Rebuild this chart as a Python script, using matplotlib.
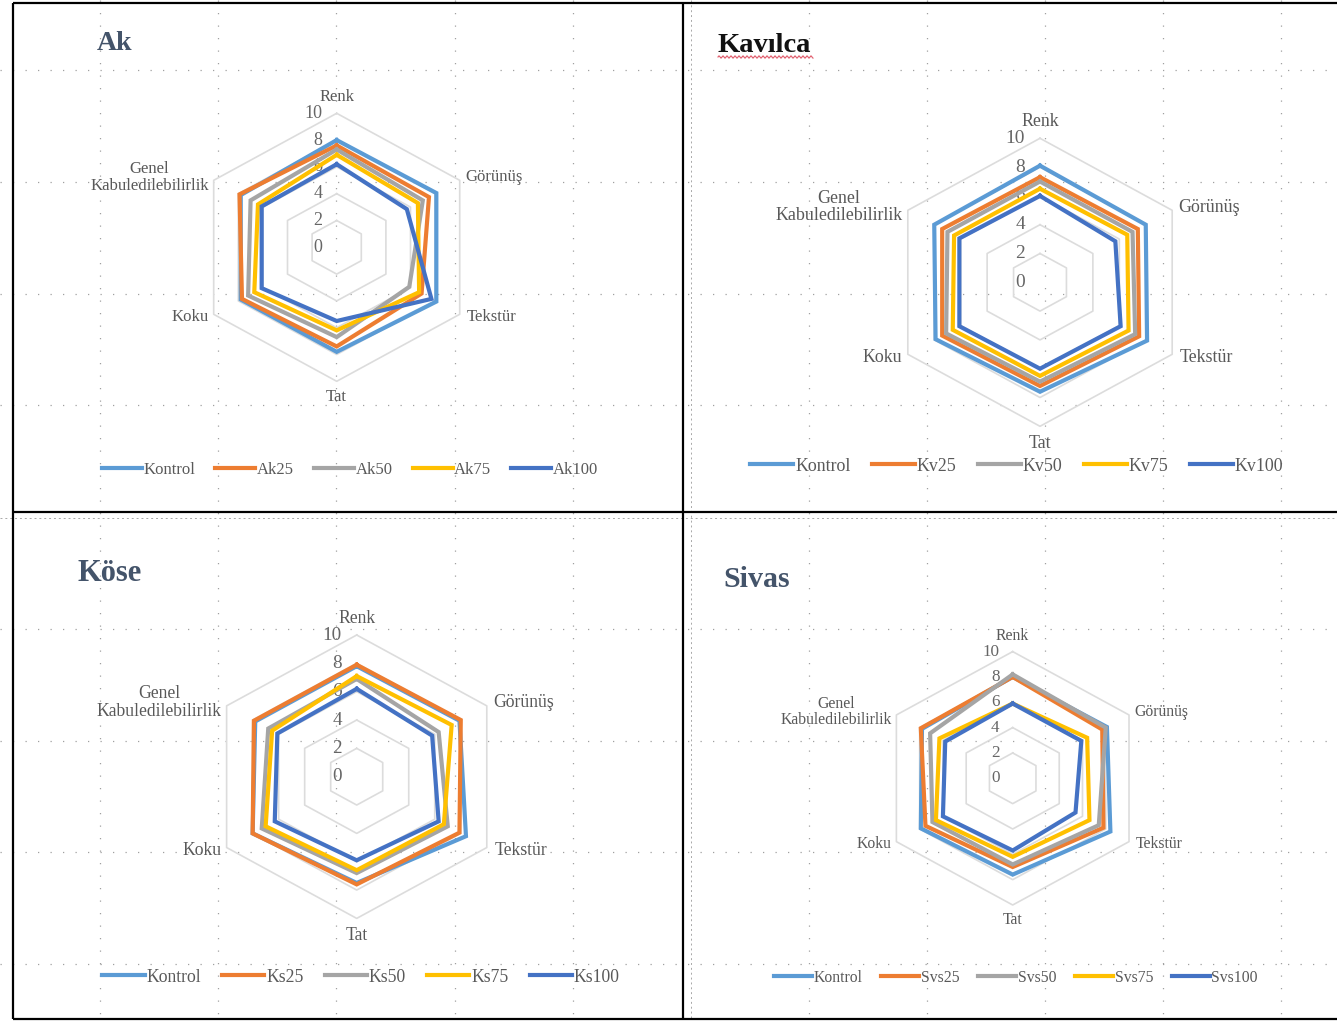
import numpy as np
import matplotlib
matplotlib.use("Agg")
import matplotlib.pyplot as plt

plt.rcParams['font.family'] = ['Liberation Serif', 'DejaVu Serif']

W, H = 1337, 1021

categories = ["Renk", "Görünüş", "Tekstür", "Tat", "Koku", "Genel\nKabuledilebilirlik"]
ticks = [0, 2, 4, 6, 8, 10]
series_colors = ["#5B9BD5", "#ED7D31", "#A5A5A5", "#FFC000", "#4472C4"]

# Ak
ak_names = ["Kontrol", "Ak25", "Ak50", "Ak75", "Ak100"]
ak_kontrol = [8.0, 8.1, 8.1, 7.8, 7.8, 7.8]
ak_25 = [7.6, 7.5, 6.9, 7.4, 7.7, 7.9]
ak_50 = [7.3, 7.0, 5.9, 6.7, 7.2, 7.0]
ak_75 = [6.9, 6.6, 6.7, 6.2, 6.7, 6.4]
ak_100 = [6.2, 5.7, 7.7, 5.5, 6.1, 6.1]

# Kavılca
kv_names = ["Kontrol", "Kv25", "Kv50", "Kv75", "Kv100"]
kv_kontrol = [8.1, 8.0, 8.1, 7.6, 7.9, 8.0]
kv_25 = [7.3, 7.4, 7.5, 7.2, 7.4, 7.4]
kv_50 = [7.0, 7.0, 7.2, 6.9, 7.1, 7.0]
kv_75 = [6.5, 6.6, 6.7, 6.5, 6.6, 6.5]
kv_100 = [6.0, 5.7, 6.1, 6.0, 6.1, 6.1]

# Köse
ks_names = ["Kontrol", "Ks25", "Ks50", "Ks75", "Ks100"]
ks_kontrol = [7.8, 7.9, 8.4, 7.5, 8.0, 7.8]
ks_25 = [7.9, 8.0, 7.9, 7.6, 8.0, 7.9]
ks_50 = [6.9, 6.3, 7.0, 6.8, 7.3, 6.8]
ks_75 = [7.1, 7.3, 6.7, 6.6, 7.0, 6.5]
ks_100 = [6.2, 5.8, 6.3, 5.9, 6.3, 6.1]

# Sivas
svs_names = ["Kontrol", "Svs25", "Svs50", "Svs75", "Svs100"]
svs_kontrol = [8.0, 8.1, 8.4, 7.6, 7.9, 7.8]
svs_25 = [8.0, 7.7, 7.8, 7.0, 7.5, 7.9]
svs_50 = [8.2, 8.0, 7.4, 6.8, 6.9, 7.1]
svs_75 = [5.9, 6.4, 6.6, 6.2, 6.6, 6.3]
svs_100 = [5.9, 5.9, 5.4, 5.7, 6.0, 5.8]

fig = plt.figure(figsize=(W / 100, H / 100), dpi=100)

# page background: dotted layout grid, cell borders, titles
bg = fig.add_axes([0, 0, 1, 1], zorder=0)
bg.set_xlim(0, W)
bg.set_ylim(H, 0)
bg.axis('off')

grid_x = [100, 218, 336, 455, 573, 809, 927, 1045, 1163, 1281]
grid_y = [70, 182, 294, 405, 629, 741, 852, 964]
for gx in grid_x:
    bg.plot([gx, gx], [0, H], color='#A0A0A0', lw=0.9, ls=(0, (1, 9)))
for gy in grid_y:
    bg.plot([0, W], [gy, gy], color='#A0A0A0', lw=0.9, ls=(0, (1, 9)))
bg.plot([691, 691], [0, H], color='#A8A8A8', lw=0.7, ls=(0, (2, 3)))
bg.plot([0, W], [518, 518], color='#A8A8A8', lw=0.7, ls=(0, (2, 3)))

border = dict(color='black', lw=1.6, solid_capstyle='butt')
bg.plot([13, W], [3, 3], **border)
bg.plot([13, W], [1019, 1019], **border)
bg.plot([13, 13], [3, 1019], **border)
bg.plot([683, 683], [3, 1019], **border)
bg.plot([13, W], [512, 512], **border)

label_offsets = [(0, 16, 'center'), (6, 3, 'left'), (7, -3, 'left'),
                 (0, -16, 'center'), (-5, -3, 'right'), (-5, 3, 'right')]


def draw_panel(names, values, cx, cy, r10, legend_x, legend_y):
    s = r10 / 134.0
    ry = r10 / 10.0
    rx = ry * 1.06
    hx, hy = 16, 13
    ax = fig.add_axes([(cx - hx * rx) / W, (H - cy - hy * ry) / H,
                       2 * hx * rx / W, 2 * hy * ry / H], zorder=2)
    ax.set_xlim(-hx, hx)
    ax.set_ylim(-hy, hy)
    ax.axis('off')
    ax.patch.set_alpha(0)

    ang = np.deg2rad(np.arange(6) * 60)
    sx, sy = np.sin(ang), np.cos(ang)

    for r in ticks[1:]:
        ax.plot(np.append(r * sx, r * sx[0]), np.append(r * sy, r * sy[0]),
                color='#DCDCDC', lw=1.2, zorder=1)
    for v in ticks:
        ax.annotate(str(v), (0, v), xytext=(-14 * s, 0), textcoords='offset pixels',
                    ha='right', va='center', fontsize=13 * s, color='#666666')

    for cat, (dx, dy, ha), px, py in zip(categories, label_offsets, sx, sy):
        ax.annotate(cat, (10 * px, 10 * py), xytext=(dx * s, dy * s),
                    textcoords='offset pixels', ha=ha, va='center',
                    multialignment='center', linespacing=1.05,
                    fontsize=12 * s, color='#595959')

    lines = []
    for name, vals, col in zip(names, values, series_colors):
        vals = np.asarray(vals)
        xs = np.append(vals * sx, vals[0] * sx[0])
        ys = np.append(vals * sy, vals[0] * sy[0])
        ln, = ax.plot(xs, ys, color=col, lw=3.0, solid_joinstyle='miter', zorder=3)
        lines.append(ln)

    ax.legend(lines, names, loc='center', bbox_to_anchor=(legend_x / W, 1 - legend_y / H),
              bbox_transform=fig.transFigure, ncol=5, frameon=False,
              fontsize=12 * s, handlelength=2.4, handletextpad=0.1,
              columnspacing=1.2, labelcolor='#595959')


draw_panel(ak_names, [ak_kontrol, ak_25, ak_50, ak_75, ak_100],
           336.7, 247.3, 134, 350, 470)
draw_panel(kv_names, [kv_kontrol, kv_25, kv_50, kv_75, kv_100],
           1040, 282.3, 144, 1017, 466)
draw_panel(ks_names, [ks_kontrol, ks_25, ks_50, ks_75, ks_100],
           356.7, 776.7, 141.7, 361, 977)
draw_panel(svs_names, [svs_kontrol, svs_25, svs_50, svs_75, svs_100],
           1012.7, 778.3, 126.7, 1016, 978)

title_color = '#44546A'
bg.text(97, 43, "Ak", fontsize=20, fontweight='bold', color=title_color, ha='left', va='center')
bg.text(717, 45, "Kavılca", fontsize=20.5, fontweight='bold', color='#111111', ha='left', va='center')
bg.text(77, 573, "Köse", fontsize=22, fontweight='bold', color=title_color, ha='left', va='center')
bg.text(723, 579, "Sivas", fontsize=21.5, fontweight='bold', color=title_color, ha='left', va='center')

# spell-check squiggle under the Kavılca heading
wx = np.linspace(718, 813, 200)
bg.plot(wx, 57 + 1.1 * np.sin(wx * 2 * np.pi / 4), color='#E05A6A', lw=0.8)

fig.savefig("out.png", dpi=100)
